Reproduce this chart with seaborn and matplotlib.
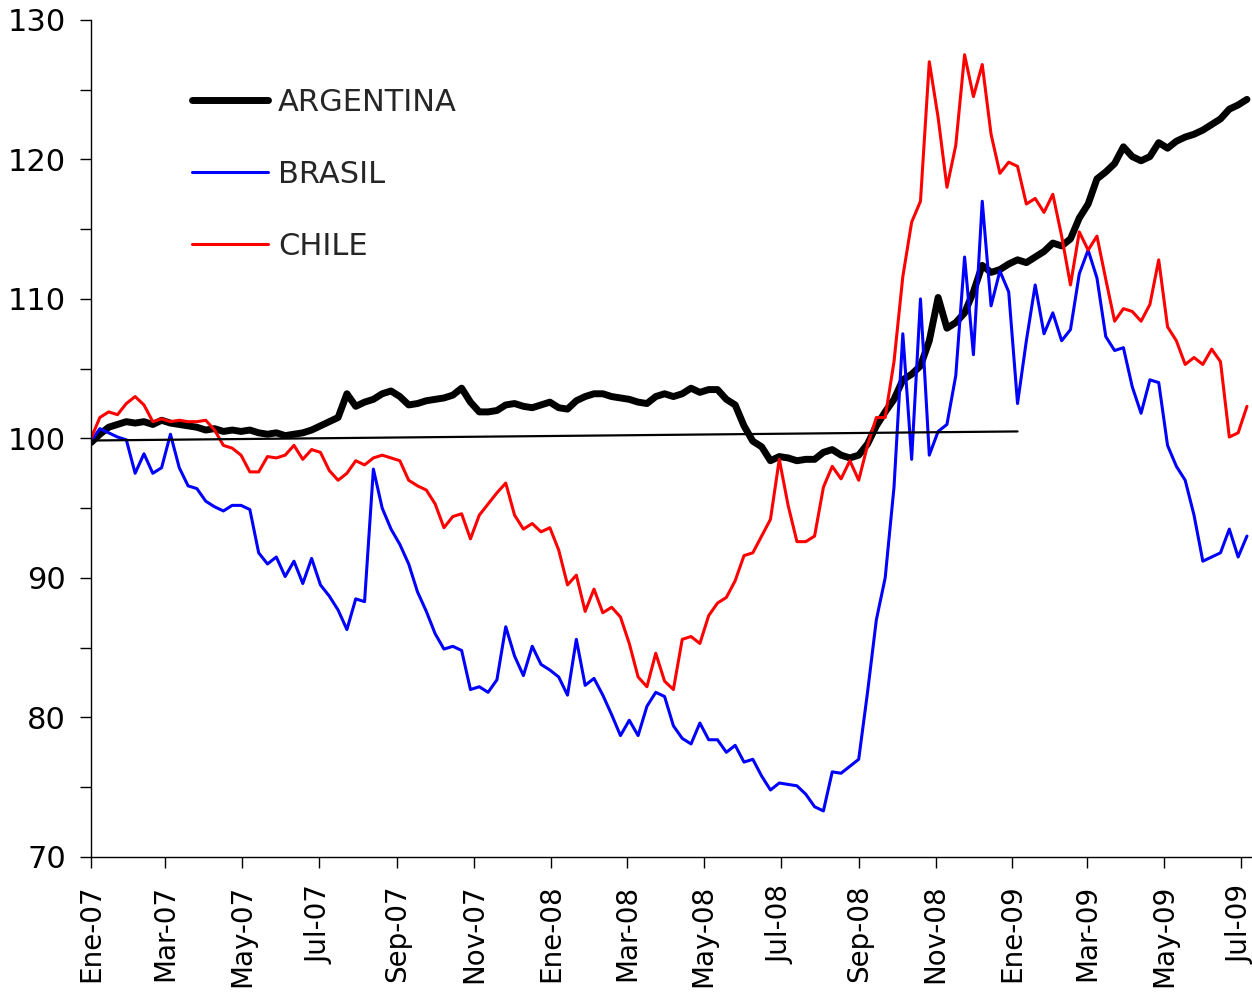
import matplotlib
matplotlib.use("Agg")
import matplotlib.pyplot as plt
import matplotlib.dates as mdates
from matplotlib.ticker import FuncFormatter, MultipleLocator
import numpy as np
import pandas as pd
import seaborn as sns

# weekly observations, index base Jan-07 = 100
fechas = pd.date_range("2007-01-01", periods=132, freq="7D")

argentina = [
    99.7, 100.3, 100.8, 101.0, 101.2, 101.1, 101.2, 101.0, 101.3, 101.1,
    101.0, 100.9, 100.8, 100.6, 100.7, 100.5, 100.6, 100.5, 100.6, 100.4,
    100.3, 100.4, 100.2, 100.3, 100.4, 100.6, 100.9, 101.2, 101.5, 103.2,
    102.3, 102.6, 102.8, 103.2, 103.4, 103.0, 102.4, 102.5, 102.7, 102.8,
    102.9, 103.1, 103.6, 102.6, 101.9, 101.9, 102.0, 102.4, 102.5, 102.3,
    102.2, 102.4, 102.6, 102.2, 102.1, 102.7, 103.0, 103.2, 103.2, 103.0,
    102.9, 102.8, 102.6, 102.5, 103.0, 103.2, 103.0, 103.2, 103.6, 103.3,
    103.5, 103.5, 102.8, 102.4, 100.9, 99.8, 99.4, 98.4, 98.7, 98.6,
    98.4, 98.5, 98.5, 99.0, 99.2, 98.8, 98.6, 98.8, 99.6, 100.9,
    101.9, 102.8, 104.2, 104.6, 105.2, 107.0, 110.1, 107.9, 108.3, 109.0,
    110.5, 112.4, 111.9, 112.1, 112.5, 112.8, 112.6, 113.0, 113.4, 114.0,
    113.8, 114.3, 115.8, 116.8, 118.6, 119.1, 119.7, 120.9, 120.2, 119.9,
    120.2, 121.2, 120.8, 121.3, 121.6, 121.8, 122.1, 122.5, 122.9, 123.6,
    123.9, 124.3,
]

brasil = [
    99.8, 100.7, 100.4, 100.1, 99.9, 97.5, 98.9, 97.5, 97.9, 100.3,
    97.9, 96.6, 96.4, 95.5, 95.1, 94.8, 95.2, 95.2, 94.9, 91.8,
    91.0, 91.5, 90.1, 91.2, 89.6, 91.4, 89.5, 88.7, 87.7, 86.3,
    88.5, 88.3, 97.8, 95.0, 93.5, 92.4, 91.0, 89.0, 87.6, 86.0,
    84.9, 85.1, 84.8, 82.0, 82.2, 81.8, 82.7, 86.5, 84.4, 83.0,
    85.1, 83.8, 83.4, 82.9, 81.6, 85.6, 82.3, 82.8, 81.6, 80.2,
    78.7, 79.8, 78.7, 80.8, 81.8, 81.5, 79.4, 78.5, 78.1, 79.6,
    78.4, 78.4, 77.5, 78.0, 76.8, 77.0, 75.8, 74.8, 75.3, 75.2,
    75.1, 74.5, 73.6, 73.3, 76.1, 76.0, 76.5, 77.0, 81.8, 87.0,
    90.0, 96.5, 107.5, 98.5, 110.0, 98.8, 100.5, 101.0, 104.5, 113.0,
    106.0, 117.0, 109.5, 112.0, 110.5, 102.5, 107.0, 111.0, 107.5, 109.0,
    107.0, 107.8, 111.8, 113.5, 111.5, 107.3, 106.3, 106.5, 103.7, 101.8,
    104.2, 104.0, 99.5, 98.0, 97.0, 94.5, 91.2, 91.5, 91.8, 93.5,
    91.5, 93.0,
]

chile = [
    100.0, 101.5, 101.9, 101.7, 102.5, 103.0, 102.4, 101.2, 101.4, 101.2,
    101.3, 101.2, 101.2, 101.3, 100.6, 99.5, 99.3, 98.8, 97.6, 97.6,
    98.7, 98.6, 98.8, 99.5, 98.5, 99.2, 99.0, 97.7, 97.0, 97.5,
    98.4, 98.1, 98.6, 98.8, 98.6, 98.4, 97.0, 96.6, 96.3, 95.3,
    93.6, 94.4, 94.6, 92.8, 94.5, 95.3, 96.1, 96.8, 94.5, 93.5,
    93.9, 93.3, 93.6, 92.0, 89.5, 90.2, 87.6, 89.2, 87.5, 87.9,
    87.2, 85.3, 82.9, 82.2, 84.6, 82.6, 82.0, 85.6, 85.8, 85.3,
    87.3, 88.2, 88.6, 89.8, 91.6, 91.8, 93.0, 94.2, 98.5, 95.2,
    92.6, 92.6, 93.0, 96.5, 98.0, 97.1, 98.4, 97.0, 99.5, 101.5,
    101.5, 105.5, 111.6, 115.5, 117.0, 127.0, 123.0, 118.0, 121.0, 127.5,
    124.5, 126.8, 121.8, 119.0, 119.8, 119.5, 116.8, 117.2, 116.2, 117.5,
    114.5, 111.0, 114.8, 113.5, 114.5, 111.4, 108.4, 109.3, 109.1, 108.4,
    109.6, 112.8, 108.0, 107.0, 105.3, 105.8, 105.3, 106.4, 105.5, 100.1,
    100.4, 102.3,
]

# thin reference line
tendencia_fechas = pd.to_datetime(["2007-01-01", "2009-01-05"])
tendencia = [99.85, 100.5]

meses = {1: "Ene", 3: "Mar", 5: "May", 7: "Jul", 9: "Sep", 11: "Nov"}

df = pd.DataFrame({"fecha": fechas, "ARGENTINA": argentina,
                   "BRASIL": brasil, "CHILE": chile})

sns.set_style("ticks")
plt.rcParams["font.family"] = ["DejaVu Sans"]

fig = plt.figure(figsize=(12.52, 9.93), dpi=100)
ax = fig.add_axes([0.0727, 0.137, 0.9273, 0.843])

sns.lineplot(data=df, x="fecha", y="ARGENTINA", color="black", linewidth=5,
             label="ARGENTINA", ax=ax)
sns.lineplot(data=df, x="fecha", y="BRASIL", color="#0000FF", linewidth=2.2,
             label="BRASIL", ax=ax)
sns.lineplot(data=df, x="fecha", y="CHILE", color="#FF0000", linewidth=2.2,
             label="CHILE", ax=ax)
sns.lineplot(x=tendencia_fechas, y=tendencia, color="black", linewidth=1.6,
             ax=ax, legend=False)

ax.set_xlim(pd.Timestamp("2007-01-01"), pd.Timestamp("2009-07-10"))
ax.set_ylim(70, 130)
ax.yaxis.set_major_locator(MultipleLocator(10))
ax.yaxis.set_minor_locator(MultipleLocator(5))
ax.xaxis.set_major_locator(mdates.MonthLocator(bymonth=list(meses.keys())))
ax.xaxis.set_major_formatter(FuncFormatter(
    lambda v, p: "%s-%s" % (meses[mdates.num2date(v).month],
                            mdates.num2date(v).strftime("%y"))))
ax.set_xlabel("")
ax.set_ylabel("")

for s in ["top", "right"]:
    ax.spines[s].set_visible(False)
for s in ["left", "bottom"]:
    ax.spines[s].set_linewidth(1.0)
    ax.spines[s].set_color("black")

ax.tick_params(axis="y", which="both", direction="out", length=8, width=1,
               labelsize=22, pad=10, colors="black")
ax.tick_params(axis="x", which="major", direction="out", length=8, width=1,
               labelsize=20, pad=12, colors="black", labelrotation=90)

ax.legend(loc="upper left", bbox_to_anchor=(0.087, 0.919), frameon=False,
          fontsize=22, handlelength=2.48, handletextpad=0.33,
          labelspacing=1.41, borderpad=0, borderaxespad=0)

fig.savefig("out.png", dpi=100)
